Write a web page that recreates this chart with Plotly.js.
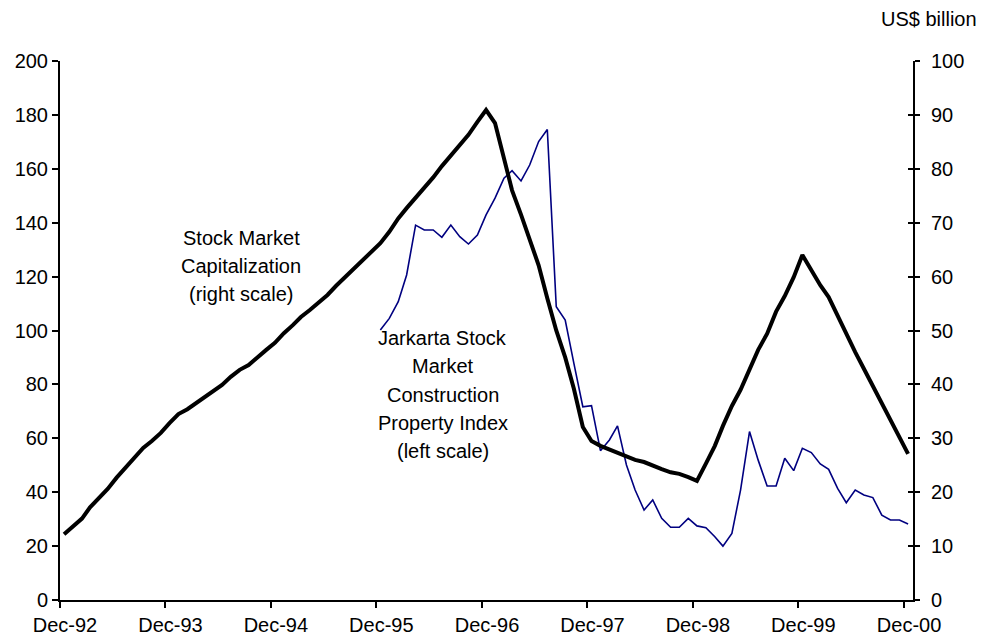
<!DOCTYPE html>
<html><head><meta charset="utf-8">
<script src="https://cdn.plot.ly/plotly-3.0.1.min.js"></script>
<style>html,body{margin:0;padding:0;background:#fff}#chart{width:984px;height:641px}</style>
</head><body><div id="chart"></div>
<script>
// Stock market capitalization, US$ billion (right scale), monthly from Dec-92
const capStart = '1992-12';
const capValues = [
  12.2, 13.7, 15.1, 17.2, 18.9, 20.6, 22.7, 24.5, 26.2, 28.2, 29.5, 31.0,
  32.8, 34.5, 35.4, 36.4, 37.7, 38.8, 39.9, 41.4, 42.7, 43.6, 45.1, 46.4,
  47.7, 49.5, 51.0, 52.5, 53.8, 55.1, 56.6, 58.3, 59.9, 61.4, 63.1, 64.7,
  66.2, 68.3, 70.8, 72.7, 74.6, 76.3, 78.4, 80.5, 82.4, 84.2, 86.3, 88.7,
  90.9, 88.5, 81.9, 76.0, 71.5, 66.6, 62.1, 56.0, 50.0, 45.0, 39.2, 32.1,
  29.5, 28.6, 27.9, 27.4, 26.7, 26.0, 25.6, 24.9, 24.3, 23.7, 23.4, 22.8,
  22.1, 25.3, 28.6, 32.3, 36.0, 39.0, 42.8, 46.4, 49.4, 53.5, 56.4, 59.9,
  64.0, 61.2, 58.4, 56.2, 52.7, 49.2, 46.0, 42.9, 39.7, 36.5, 33.4, 30.1,
  27.1
];
// Jakarta Stock Market construction property index (left scale), monthly from Dec-95
const jsxStart = '1995-12';
const jsxValues = [
  100.2, 104.5, 110.7, 120.6, 139.1, 137.3, 137.3, 134.6, 139.1, 134.8, 132.1, 135.4,
  142.9, 149.1, 156.5, 159.3, 155.5, 161.4, 170.1, 174.6, 108.8, 103.9, 87.8, 71.7,
  72.1, 55.4, 59.4, 64.6, 50.1, 40.8, 33.4, 37.1, 30.3, 27.0, 27.0, 30.3,
  27.5, 26.8, 23.5, 20.0, 24.7, 40.8, 62.5, 51.9, 42.3, 42.3, 52.6, 48.0,
  56.3, 54.7, 50.5, 48.5, 41.4, 36.1, 40.8, 39.0, 38.0, 31.5, 29.7, 29.7,
  28.2
];
const tickDates = ['1992-12-01','1993-12-01','1994-12-01','1995-12-01','1996-12-01',
                   '1997-12-01','1998-12-01','1999-12-01','2000-12-01'];
const tickLabels = ['Dec-92','Dec-93','Dec-94','Dec-95','Dec-96','Dec-97','Dec-98','Dec-99','Dec-00'];
const leftTicks = [0,20,40,60,80,100,120,140,160,180,200];
const rightTicks = [0,10,20,30,40,50,60,70,80,90,100];
const capLabel = ['Stock Market','Capitalization','(right scale)'];
const jsxLabel = ['Jarkarta Stock','Market','Construction','Property Index','(left scale)'];
const unitLabel = 'US$ billion';

function monthDates(start, n){
  const [y, m] = start.split('-').map(Number);
  const out = [];
  for (let i = 0; i < n; i++) {
    const t = (m - 1) + i;
    const yy = y + Math.floor(t / 12);
    const mm = (t % 12) + 1;
    out.push(yy + '-' + String(mm).padStart(2, '0') + '-15');
  }
  return out;
}

const FONT = 'Liberation Sans, Arial, sans-serif';
const traces = [
  {x: monthDates(jsxStart, jsxValues.length), y: jsxValues, type: 'scatter', mode: 'lines',
   line: {color: '#000080', width: 1.6}, yaxis: 'y', hoverinfo: 'skip'},
  {x: monthDates(capStart, capValues.length), y: capValues, type: 'scatter', mode: 'lines',
   line: {color: '#000000', width: 4}, yaxis: 'y2', hoverinfo: 'skip'}
];

const annotations = [];
capLabel.forEach((t, i) => annotations.push({
  text: t, xref: 'paper', yref: 'paper', x: 0.2126, y: (600 - (238 + 28 * i)) / 539,
  xanchor: 'center', yanchor: 'middle', showarrow: false, font: {family: FONT, size: 20, color: '#000'}
}));
jsxLabel.forEach((t, i) => annotations.push({
  text: t, xref: 'paper', yref: 'paper', x: 0.4485, y: (600 - (338 + 28.3 * i)) / 539,
  xanchor: 'center', yanchor: 'middle', showarrow: false, font: {family: FONT, size: 20, color: '#000'}
}));
annotations.push({
  text: unitLabel, xref: 'paper', yref: 'paper', x: (979 - 60) / 853, y: (600 - 19) / 539,
  xanchor: 'right', yanchor: 'middle', showarrow: false, font: {family: FONT, size: 20, color: '#000'}
});

const layout = {
  width: 984, height: 641,
  margin: {l: 60, r: 71, t: 61, b: 41, pad: 0},
  paper_bgcolor: '#fff', plot_bgcolor: '#fff',
  showlegend: false,
  font: {family: FONT, size: 20, color: '#000'},
  xaxis: {
    type: 'date', range: ['1992-12-01', '2001-01-01'],
    tickmode: 'array', tickvals: tickDates, ticktext: tickLabels,
    ticks: 'outside', ticklen: 6, tickwidth: 2, tickcolor: '#000',
    ticklabelshift: 5,
    showline: true, linecolor: '#000', linewidth: 2,
    showgrid: false, zeroline: false, fixedrange: true,
    tickfont: {family: FONT, size: 20, color: '#000'}
  },
  yaxis: {
    range: [0, 200], tickmode: 'array', tickvals: leftTicks,
    ticks: 'outside', ticklen: 6, tickwidth: 2, tickcolor: '#000',
    showline: true, linecolor: '#000', linewidth: 2,
    showgrid: false, zeroline: false, fixedrange: true,
    tickfont: {family: FONT, size: 20, color: '#000'}
  },
  yaxis2: {
    range: [0, 100], tickmode: 'array', tickvals: rightTicks,
    overlaying: 'y', side: 'right', anchor: 'x',
    ticks: 'outside', ticklen: 5, tickwidth: 2, tickcolor: '#000',
    ticklabelstandoff: 7,
    showline: true, linecolor: '#000', linewidth: 2,
    showgrid: false, zeroline: false, fixedrange: true,
    tickfont: {family: FONT, size: 20, color: '#000'}
  },
  yaxis3: {
    range: [0, 100], tickmode: 'array', tickvals: rightTicks,
    overlaying: 'y', side: 'right', anchor: 'x',
    ticks: 'inside', ticklen: 5, tickwidth: 2, tickcolor: '#000',
    showticklabels: false, showline: false,
    showgrid: false, zeroline: false, fixedrange: true
  },
  annotations: annotations
};

// an empty trace to make yaxis3 (crossing right ticks) render
traces.push({x: [], y: [], type: 'scatter', mode: 'lines', yaxis: 'y3', hoverinfo: 'skip'});

Plotly.newPlot('chart', traces, layout, {staticPlot: true, displayModeBar: false});
</script>
</body></html>
